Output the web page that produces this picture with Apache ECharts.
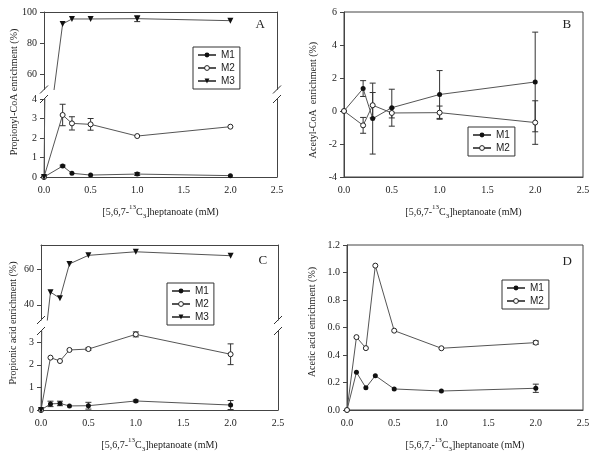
<!DOCTYPE html>
<html><head><meta charset="utf-8">
<script src="https://cdn.jsdelivr.net/npm/echarts@6/dist/echarts.min.js"></script>
<style>html,body{margin:0;padding:0;background:#fff}#c{width:600px;height:460px}</style>
</head><body><div id="c"></div>
<script>
// ---------- data ----------
const doseAB = [0, 0.2, 0.3, 0.5, 1.0, 2.0];
const doseCD = [0, 0.1, 0.2, 0.3, 0.5, 1.0, 2.0];
const xTickLabels = [0, 0.5, 1.0, 1.5, 2.0, 2.5];

// Panel A: Propionyl-CoA
const a_m1 = [0, 0.56, 0.19, 0.10, 0.15, 0.07];
const a_m1_err = [0, 0.05, 0, 0, 0.07, 0];
const a_m2 = [0, 3.18, 2.75, 2.70, 2.10, 2.58];
const a_m2_err = [0, 0.55, 0.34, 0.30, 0, 0];
const a_m3 = [0, 92.3, 95.5, 95.5, 95.7, 94.4];
const a_m3_err = [0, 0, 0, 0, 1.9, 0];
const a_ticksUp = [60, 80, 100];
const a_ticksLo = [0, 1, 2, 3, 4];

// Panel B: Acetyl-CoA
const b_m1 = [0, 1.36, -0.46, 0.20, 1.00, 1.76];
const b_m1_err = [0, 0.48, 2.15, 1.12, 1.45, 3.02];
const b_m2 = [0, -0.87, 0.35, -0.12, -0.10, -0.70];
const b_m2_err = [0, 0.48, 0.77, 0.30, 0.40, 1.32];
const b_ticks = [-4, -2, 0, 2, 4, 6];

// Panel C: Propionic acid
const c_m1 = [0, 0.27, 0.29, 0.18, 0.19, 0.40, 0.22];
const c_m1_err = [0, 0.12, 0.10, 0, 0.15, 0.04, 0.20];
const c_m2 = [0, 2.32, 2.17, 2.66, 2.70, 3.35, 2.47];
const c_m2_err = [0, 0, 0, 0, 0.05, 0.11, 0.46];
const c_m3 = [0, 47.1, 43.7, 62.9, 67.7, 69.7, 67.5];
const c_ticksUp = [40, 60];
const c_ticksLo = [0, 1, 2, 3];

// Panel D: Acetic acid
const d_m1 = [0, 0.274, 0.162, 0.250, 0.153, 0.138, 0.158];
const d_m1_err = [0, 0, 0, 0, 0, 0, 0.03];
const d_m2 = [0, 0.530, 0.450, 1.050, 0.577, 0.449, 0.490];
const d_m2_err = [0, 0, 0, 0, 0, 0, 0.012];
const d_ticks = [0, 0.2, 0.4, 0.6, 0.8, 1.0, 1.2];

// ---------- style / layout ----------
const SERIF = '"Liberation Serif", "Times New Roman", serif';
const SANS = '"Liberation Sans", Arial, sans-serif';
const AX = '#444', LINE = '#555', TXT = '#222';

const G = [
  {left: 44,  top: 12,  width: 233, height: 77.5}, // 0 A upper
  {left: 44,  top: 99,  width: 233, height: 78},   // 1 A lower
  {left: 344, top: 12,  width: 239, height: 165},  // 2 B
  {left: 41,  top: 245, width: 237, height: 75},   // 3 C upper
  {left: 41,  top: 331, width: 237, height: 79},   // 4 C lower
  {left: 347, top: 245, width: 236, height: 165}   // 5 D
];

const grids = G.map((g, i) => Object.assign({containLabel: false}, g,
  (i === 2 || i === 5) ? {show: true, borderColor: AX, borderWidth: 1, backgroundColor: 'transparent'} : {}));

function xTitle(comma) {
  return '[5,6,7' + (comma ? ',' : '') + '-{sup|13}C{sub|3}]heptanoate (mM)';
}
const richT = {
  sup: {fontFamily: SERIF, fontSize: 7, color: TXT, verticalAlign: 'top', lineHeight: 16},
  sub: {fontFamily: SERIF, fontSize: 7, color: TXT, verticalAlign: 'bottom', lineHeight: 16}
};
function xAx(gi, labels, name) {
  return {
    type: 'value', gridIndex: gi, min: 0, max: 2.5, interval: 0.5,
    position: labels ? 'bottom' : 'top',
    axisLine: {show: true, onZero: false, lineStyle: {color: AX, width: 1}},
    axisTick: {show: false},
    axisLabel: {show: labels, customValues: xTickLabels, formatter: v => v.toFixed(1), margin: 8,
      fontFamily: SERIF, fontSize: 10, color: TXT},
    splitLine: {show: false},
    name: labels ? name : '', nameLocation: 'middle', nameGap: 27,
    nameTextStyle: {fontFamily: SERIF, fontSize: 10, color: TXT, lineHeight: 16, rich: richT}
  };
}
function yAx(gi, min, max, ticks, fmt) {
  return {
    type: 'value', gridIndex: gi, min, max, position: 'left',
    axisLine: {show: true, onZero: false, lineStyle: {color: AX, width: 1}},
    axisTick: {show: true, inside: false, length: 4, lineStyle: {color: AX}, customValues: ticks},
    axisLabel: {customValues: ticks, formatter: fmt, margin: 7, fontFamily: SERIF, fontSize: 10, color: TXT},
    splitLine: {show: false}
  };
}
function yRight(gi) {
  return {type: 'value', gridIndex: gi, min: 0, max: 1, position: 'right',
    axisLine: {show: true, onZero: false, lineStyle: {color: AX, width: 1}},
    axisTick: {show: false}, axisLabel: {show: false}, splitLine: {show: false}};
}

const STY = {
  M1: {symbol: 'circle', symbolSize: 5, itemStyle: {color: '#111'}},
  M2: {symbol: 'circle', symbolSize: 5, itemStyle: {color: '#fff', borderColor: '#222', borderWidth: 1}},
  M3: {symbol: 'triangle', symbolSize: 6, symbolRotate: 180, itemStyle: {color: '#111'}}
};
function lineS(name, xs, ys, gi) {
  return Object.assign({
    type: 'line', name, xAxisIndex: gi, yAxisIndex: gi, clip: true, z: 3,
    data: xs.map((x, i) => [x, ys[i]]),
    lineStyle: {color: LINE, width: 1}, emphasis: {disabled: true}, animation: false
  }, STY[name]);
}
function errS(xs, ys, es, gi) {
  const data = [];
  xs.forEach((x, i) => { if (es[i] > 0) data.push([x, ys[i] - es[i], ys[i] + es[i]]); });
  return {
    type: 'custom', xAxisIndex: gi, yAxisIndex: gi, clip: true, z: 2, silent: true,
    data, encode: {x: 0, y: [1, 2]}, animation: false,
    renderItem(params, api) {
      const x = api.value(0);
      const lo = api.coord([x, api.value(1)]);
      const hi = api.coord([x, api.value(2)]);
      const w = 3, st = {stroke: '#333', lineWidth: 1};
      return {type: 'group', children: [
        {type: 'line', shape: {x1: lo[0], y1: lo[1], x2: hi[0], y2: hi[1]}, style: st},
        {type: 'line', shape: {x1: lo[0] - w, y1: lo[1], x2: lo[0] + w, y2: lo[1]}, style: st},
        {type: 'line', shape: {x1: hi[0] - w, y1: hi[1], x2: hi[0] + w, y2: hi[1]}, style: st}
      ]};
    }
  };
}
function legend(left, top, names) {
  return {left, top, orient: 'vertical', data: names, borderColor: '#333', borderWidth: 1,
    padding: [3, 5, 3, 4], itemWidth: 18, itemHeight: 6, itemGap: 3, selectedMode: false,
    itemStyle: {borderWidth: 1},
    textStyle: {fontFamily: SANS, fontSize: 10, color: TXT}};
}
function panelTitle(t, cx, cy) {
  return {text: t, left: cx - 4.5, top: cy - 7, padding: 0,
    textStyle: {fontFamily: SERIF, fontSize: 13, fontWeight: 'normal', color: TXT}};
}
function yTitle(t, cx, cy) {
  return {type: 'text', x: cx, y: cy, rotation: Math.PI / 2,
    style: {text: t, fill: TXT, font: '10px ' + SERIF, align: 'center', verticalAlign: 'middle',
      textAlign: 'center', textVerticalAlign: 'middle'}};
}
function breakMarks(up, lo) {
  const out = [];
  const yU = up.top + up.height, yL = lo.top;
  [up.left, up.left + up.width].forEach(x => {
    [yU, yL].forEach(y => out.push({type: 'line', shape: {x1: x - 4, y1: y + 4, x2: x + 4, y2: y - 4},
      style: {stroke: '#333', lineWidth: 1}}));
  });
  return out;
}

const int0 = v => String(v);
const option = {
  animation: false,
  backgroundColor: '#fff',
  grid: grids,
  xAxis: [
    xAx(0, false), xAx(1, true, xTitle(false)), xAx(2, true, xTitle(false)),
    xAx(3, false), xAx(4, true, xTitle(false)), xAx(5, true, xTitle(true))
  ],
  yAxis: [
    yAx(0, 50, 100, a_ticksUp, int0),
    yAx(1, 0, 4, a_ticksLo, int0),
    yAx(2, -4, 6, b_ticks, int0),
    yAx(3, 31.5, 73.5, c_ticksUp, int0),
    yAx(4, 0, 3.5, c_ticksLo, int0),
    yAx(5, 0, 1.2, d_ticks, v => v.toFixed(1)),
    yRight(0), yRight(1), yRight(3), yRight(4)
  ],
  legend: [
    legend(193, 47, ['M1', 'M2', 'M3']),
    legend(468, 127, ['M1', 'M2']),
    legend(167, 283, ['M1', 'M2', 'M3']),
    legend(502, 280, ['M1', 'M2'])
  ],
  title: [panelTitle('A', 260, 25), panelTitle('B', 567, 25), panelTitle('C', 263, 261), panelTitle('D', 567, 262)],
  graphic: [
    yTitle('Propionyl-CoA enrichment (%)', 14, 92),
    yTitle('Acetyl-CoA  enrichment (%)', 313, 100),
    yTitle('Propionic acid enrichment (%)', 13, 323),
    yTitle('Acetic acid enrichment (%)', 312, 322)
  ].concat(breakMarks(G[0], G[1]), breakMarks(G[3], G[4])),
  series: [
    // A
    lineS('M1', doseAB, a_m1, 1), lineS('M2', doseAB, a_m2, 1), lineS('M3', doseAB, a_m3, 1),
    lineS('M3', doseAB, a_m3, 0),
    errS(doseAB, a_m1, a_m1_err, 1), errS(doseAB, a_m2, a_m2_err, 1), errS(doseAB, a_m3, a_m3_err, 0),
    // B
    lineS('M1', doseAB, b_m1, 2), lineS('M2', doseAB, b_m2, 2),
    errS(doseAB, b_m1, b_m1_err, 2), errS(doseAB, b_m2, b_m2_err, 2),
    // C
    lineS('M1', doseCD, c_m1, 4), lineS('M2', doseCD, c_m2, 4), lineS('M3', doseCD, c_m3, 4),
    lineS('M3', doseCD, c_m3, 3),
    errS(doseCD, c_m1, c_m1_err, 4), errS(doseCD, c_m2, c_m2_err, 4),
    // D
    lineS('M1', doseCD, d_m1, 5), lineS('M2', doseCD, d_m2, 5),
    errS(doseCD, d_m1, d_m1_err, 5), errS(doseCD, d_m2, d_m2_err, 5)
  ]
};
const chart = echarts.init(document.getElementById('c'), null, {renderer: 'canvas'});
chart.setOption(option);
</script>
</body></html>
